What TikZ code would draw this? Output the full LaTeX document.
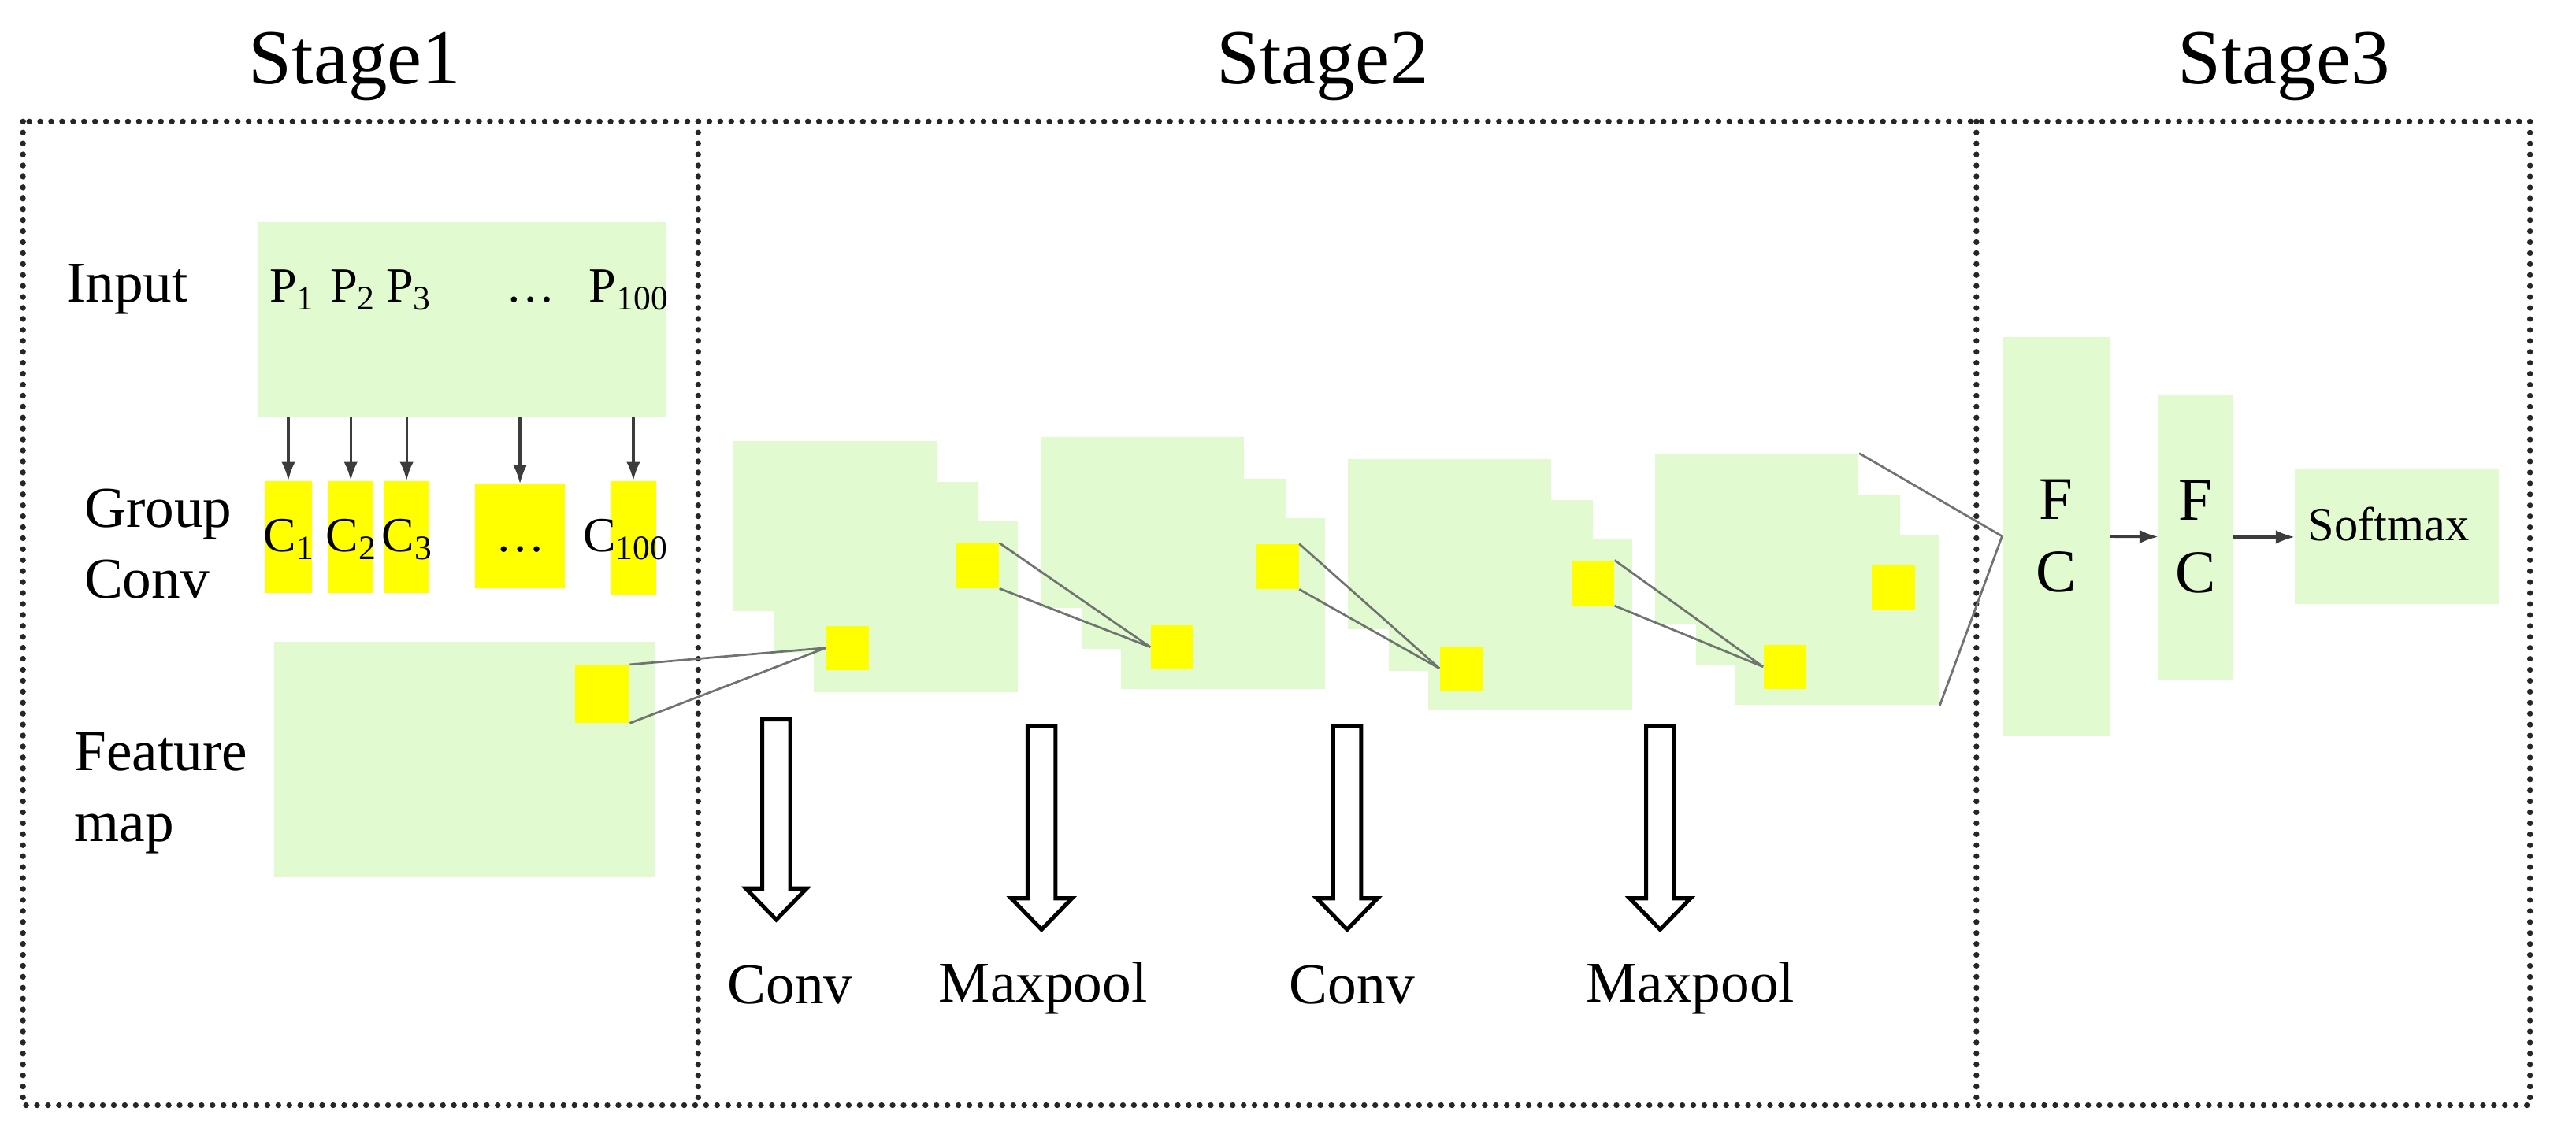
\documentclass[tikz,border=0pt]{standalone}
\usepackage{fontspec}
\setmainfont{Liberation Serif}
\usepackage{xcolor}
\usepackage{tikz}
\usetikzlibrary{arrows.meta}
\definecolor{mapgreen}{RGB}{226,250,208}
\definecolor{kernyellow}{RGB}{255,255,0}
\definecolor{linkgray}{RGB}{112,116,112}
\definecolor{arrowgray}{RGB}{60,60,60}
\tikzset{ fmap/.style = {rectangle, fill=mapgreen, inner sep=0pt} }
\tikzset{ layer/.style = {fmap, anchor=north west, minimum width=2.48cm, minimum height=2.08cm} }
\tikzset{ kern/.style = {rectangle, fill=kernyellow, inner sep=0pt} }
\tikzset{ link/.style = {draw=linkgray, line width=0.75pt} }
\tikzset{ stagebox/.style = {draw=black!85, line width=2pt, line cap=round, dash pattern=on 0pt off 3.8pt} }
\tikzset{ blockarrow/.style = {draw=black, fill=white, line width=1.4pt} }
\tikzset{ title/.style = {anchor=base, inner sep=0pt, font=\fontsize{27}{32}\selectfont} }
\tikzset{ lbl/.style = {inner sep=0pt, font=\fontsize{20}{24.5}\selectfont} }
\tikzset{ ptxt/.style = {anchor=base, inner sep=0pt, font=\fontsize{17}{20}\selectfont} }
\newcommand{\blkarrow}[3]{\draw[blockarrow] (#1-8.5,#2) -- (#1+8.5,#2) -- (#1+8.5,#3-19) -- (#1+18.5,#3-19) -- (#1,#3) -- (#1-18.5,#3-19) -- (#1-8.5,#3-19) -- cycle;}

\begin{document}
\begin{tikzpicture}[x=0.02cm,y=-0.02cm,>={Latex[length=6.5pt,width=4.8pt]}]
\useasboundingbox (0,0) rectangle (1568,697);

% frames
\draw[stagebox] (14,74) rectangle (1540,673);
\draw[stagebox] (425,74) -- (425,673);
\draw[stagebox] (1203,74) -- (1203,673);
\node[title] (st1) at (216,51) {Stage1};
\node[title] (st2) at (805,51) {Stage2};
\node[title] (st3) at (1390,51) {Stage3};

% stage 1
\node[fmap, minimum width=4.96cm, minimum height=2.38cm] (inp) at (281,194.5) {};
\node[lbl, anchor=base west] (inplbl) at (40,184) {Input};
\node[ptxt] (p1) at (178,184) {P\textsubscript{1}};
\node[ptxt] (p2) at (215,184) {P\textsubscript{2}};
\node[ptxt] (p3) at (249,184) {P\textsubscript{3}};
\node[ptxt] (pdots) at (323,184) {\dots};
\node[ptxt] (p100) at (383,184) {P\textsubscript{100}};

\node[kern, minimum width=0.58cm, minimum height=1.36cm] (c1) at (175.5,327) {};
\node[kern, minimum width=0.56cm, minimum height=1.36cm] (c2) at (213.5,327) {};
\node[kern, minimum width=0.56cm, minimum height=1.36cm] (c3) at (247.5,327) {};
\node[kern, minimum width=1.10cm, minimum height=1.26cm] (cdots) at (316.5,326.5) {};
\node[kern, minimum width=0.56cm, minimum height=1.38cm] (c100) at (385.5,327.5) {};
\node[ptxt] (c1t) at (176,336) {C\textsubscript{1}};
\node[ptxt] (c2t) at (214,336) {C\textsubscript{2}};
\node[ptxt] (c3t) at (248,336) {C\textsubscript{3}};
\node[ptxt] (cdotst) at (317,336) {\dots};
\node[ptxt] (c100t) at (381,336) {C\textsubscript{100}};
\node[lbl, anchor=west, align=left] (grplbl) at (51,331) {Group\\Conv};

\draw[->, arrowgray, line width=0.9pt] (inp.south -| c1) -- (c1.north);
\draw[->, arrowgray, line width=0.9pt] (inp.south -| c2) -- (c2.north);
\draw[->, arrowgray, line width=0.9pt] (inp.south -| c3) -- (c3.north);
\draw[->, arrowgray, line width=0.9pt] (inp.south -| cdots) -- (cdots.north);
\draw[->, arrowgray, line width=0.9pt] (inp.south -| c100) -- (c100.north);

\node[fmap, minimum width=4.64cm, minimum height=2.86cm] (fm) at (283,462.5) {};
\node[kern, minimum width=0.66cm, minimum height=0.70cm] (fy) at (366.5,422.5) {};
\node[lbl, anchor=west, align=left] (fmlbl) at (45,483) {Feature\\map};

% stage 2
\node[layer] (s1a) at (446,268) {};
\node[layer] (s1b) at (471,293) {};
\node[layer] (s1c) at (495,317) {};
\node[layer] (s2a) at (633,266) {};
\node[layer] (s2b) at (658,291) {};
\node[layer] (s2c) at (682,315) {};
\node[layer] (s3a) at (820,279) {};
\node[layer] (s3b) at (845,304) {};
\node[layer] (s3c) at (869,328) {};
\node[layer] (s4a) at (1007,276) {};
\node[layer] (s4b) at (1032,301) {};
\node[layer] (s4c) at (1056,325) {};

\node[kern, minimum width=0.52cm, minimum height=0.54cm] (r1) at (516,394.5) {};
\node[kern, minimum width=0.52cm, minimum height=0.54cm] (k1) at (595,344.5) {};
\node[kern, minimum width=0.52cm, minimum height=0.54cm] (r2) at (713.5,394) {};
\node[kern, minimum width=0.52cm, minimum height=0.54cm] (k2) at (777.5,345) {};
\node[kern, minimum width=0.52cm, minimum height=0.54cm] (r3) at (889.5,407) {};
\node[kern, minimum width=0.52cm, minimum height=0.54cm] (k3) at (969.5,355) {};
\node[kern, minimum width=0.52cm, minimum height=0.54cm] (r4) at (1086.5,406) {};
\node[kern, minimum width=0.52cm, minimum height=0.54cm] (k4) at (1152.5,358) {};

\draw[link] (fy.north east) -- (r1.west);
\draw[link] (fy.south east) -- (r1.west);
\draw[link] (k1.north east) -- (r2.west);
\draw[link] (k1.south east) -- (r2.west);
\draw[link] (k2.north east) -- (r3.west);
\draw[link] (k2.south east) -- (r3.west);
\draw[link] (k3.north east) -- (r4.west);
\draw[link] (k3.south east) -- (r4.west);

\blkarrow{472.5}{438}{560}
\blkarrow{634}{442}{566}
\blkarrow{820}{442}{566}
\blkarrow{1010.5}{442}{566}
\node[lbl, anchor=base] (op1) at (481,611) {Conv};
\node[lbl, anchor=base] (op2) at (635,610) {Maxpool};
\node[lbl, anchor=base] (op3) at (823,611) {Conv};
\node[lbl, anchor=base] (op4) at (1029,610) {Maxpool};

% stage 3
\node[fmap, minimum width=1.30cm, minimum height=4.86cm, align=center, font=\fontsize{21}{25}\selectfont] (fc1) at (1251.5,326.5) {F\\C};
\node[fmap, minimum width=0.90cm, minimum height=3.48cm, align=center, font=\fontsize{21}{25}\selectfont] (fc2) at (1336.5,327) {F\\C};
\node[fmap, minimum width=2.48cm, minimum height=1.64cm] (soft) at (1459,327) {};
\node[inner sep=0pt, font=\fontsize{16.5}{20}\selectfont] (softt) at (1454,319) {Softmax};

\draw[link] (s4a.north east) -- (fc1.west);
\draw[link] (s4c.south east) -- (fc1.west);
\draw[->, arrowgray, line width=0.9pt] (fc1) -- (fc2);
\draw[->, arrowgray, line width=0.9pt] (fc2) -- (soft);
\end{tikzpicture}
\end{document}
